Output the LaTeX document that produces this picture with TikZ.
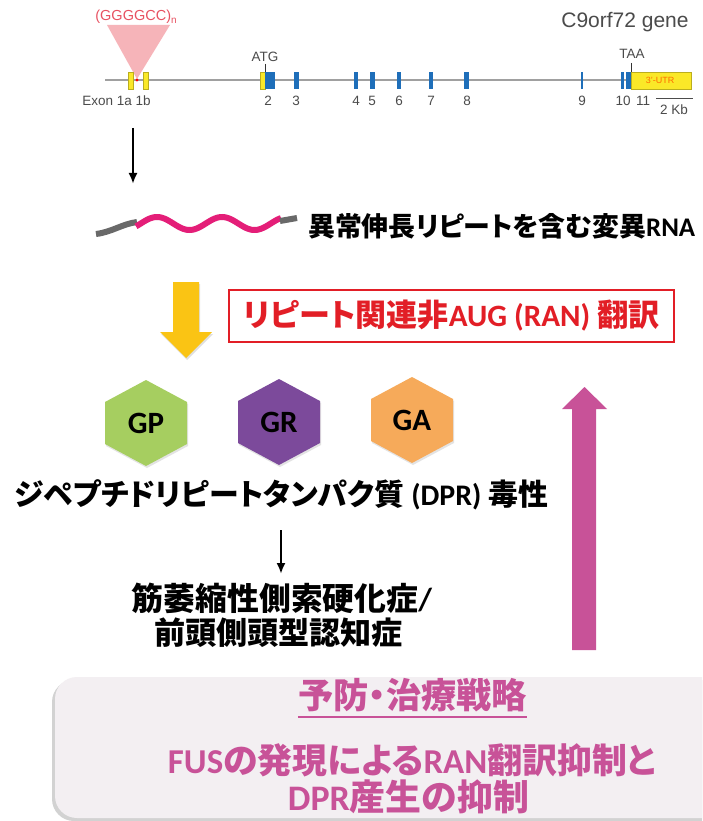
\documentclass[tikz,border=0pt]{standalone}
\usepackage{fontspec}
\usepackage{graphicx}
\setmainfont{Liberation Sans}
\newfontfamily\jp{Noto Sans CJK JP}[RawFeature=+palt]
\newfontfamily\lat{Carlito}
\usetikzlibrary{arrows.meta,shadows}
\definecolor{genegray}{RGB}{160,160,160}
\definecolor{exblue}{RGB}{30,110,185}
\definecolor{exyellow}{RGB}{250,232,40}
\definecolor{tripink}{RGB}{246,172,178}
\definecolor{repred}{RGB}{232,82,98}
\definecolor{labgray}{RGB}{75,75,75}
\definecolor{rnapink}{RGB}{228,30,120}
\definecolor{rnagray}{RGB}{105,105,105}
\definecolor{arrowyellow}{RGB}{250,196,20}
\definecolor{ranred}{RGB}{226,30,38}
\definecolor{gpgreen}{RGB}{166,206,96}
\definecolor{grpurple}{RGB}{124,74,155}
\definecolor{gaorange}{RGB}{246,170,90}
\definecolor{strpink}{RGB}{200,82,152}
\definecolor{boxfill}{RGB}{243,239,242}
\newcommand\fitto[2]{\resizebox{#1pt}{!}{#2}}
\tikzset{
  glabel/.style={font=\fontsize{13.5}{15}\selectfont, text=labgray, inner sep=0pt},
  blackarrow/.style={line width=2.2pt, -{Latex[length=11pt,width=9pt]}},
  jptext/.style={inner sep=0pt},
  hextext/.style={inner sep=0pt, font=\lat\bfseries\fontsize{31}{32}\selectfont},
  exonb/.style={fill=exblue},
  exony/.style={fill=exyellow, draw=exyellow!75!black, line width=0.3pt}
}
\begin{document}
\begin{tikzpicture}[x=1pt,y=-1pt]
\useasboundingbox (0,0) rectangle (702,821);
\fill[white] (0,0) rectangle (702,821);
% ---------- gene ----------
\node[font=\fontsize{21}{23}\selectfont, text=labgray, inner sep=0pt] (title) at (625,22) {C9orf72 gene};
\fill[tripink, opacity=0.9] (107,25) -- (170,25) -- (137,79) -- cycle;
\node[font=\fontsize{14.5}{16}\selectfont, text=repred, inner sep=0pt] (rep) at (136,17) {(GGGGCC)\raisebox{-0.45ex}{\fontsize{10}{11}\selectfont n}};
\draw[genegray, line width=2.5pt] (105,80) -- (632,80);
\fill[red] (137,80) circle (1.6);
\draw[exony] (128,72) rectangle (133,89);
\draw[exony] (143,72) rectangle (148,89);
\draw[exony] (260,72) rectangle (265,89);
\fill[exonb] (265,72) rectangle (275,89);
\fill[exonb] (294,72) rectangle (299,89);
\fill[exonb] (354,72) rectangle (358,89);
\fill[exonb] (370,72) rectangle (375,89);
\fill[exonb] (397,72) rectangle (401,89);
\fill[exonb] (429,72) rectangle (433,89);
\fill[exonb] (464,72) rectangle (469,89);
\fill[exonb] (581,72) rectangle (583,89);
\fill[exonb] (621,72) rectangle (624,89);
\fill[exonb] (626,72) rectangle (631,89);
\draw[exony] (631,72) rectangle (691,89);
\node[font=\fontsize{9}{10}\selectfont, text=orange!85!red, inner sep=0pt] (utr) at (660,80.5) {3'-UTR};
\node[glabel] (atg) at (265,57) {ATG};
\draw[black!80, line width=0.8pt] (265,64) -- (265,72);
\node[glabel] (taa) at (632,54) {TAA};
\draw[black!80, line width=0.8pt] (631,63) -- (631,72);
\node[glabel] (ex1) at (116.5,101) {Exon 1a 1b};
\node[glabel] (l2) at (268,101) {2};
\node[glabel] (l3) at (296,101) {3};
\node[glabel] (l4) at (356,101) {4};
\node[glabel] (l5) at (372,101) {5};
\node[glabel] (l6) at (399,101) {6};
\node[glabel] (l7) at (431,101) {7};
\node[glabel] (l8) at (467,101) {8};
\node[glabel] (l9) at (582,101) {9};
\node[glabel] (l10) at (623,101) {10};
\node[glabel] (l11) at (643,101) {11};
\draw[black!70, line width=1pt] (656,99) -- (693,99);
\node[glabel] (kb) at (674,109.5) {2 Kb};
% ---------- arrow gene -> RNA ----------
\coordinate (g1) at (133,128);
\coordinate (g2) at (133,184);
\draw[blackarrow] (g1) -- (g2);
% ---------- RNA ----------
\draw[rnagray, line width=6pt] (96,234) .. controls (112,232) and (122,224) .. (137,222);
\draw[rnapink, line width=6pt, domain=136:281, samples=80, variable=\t]
  plot ({\t},{223.5-6.5*cos(5.538*(\t-157))});
\draw[rnagray, line width=6pt] (280,221) -- (297,218);
\node[jptext, anchor=west] (rna) at (308,226) {\fitto{387}{\bfseries\jp 異常伸長リピートを含む変異\lat RNA}};
% ---------- yellow arrow ----------
\fill[arrowyellow, drop shadow={opacity=0.25, shadow xshift=1pt, shadow yshift=-2pt}]
  (173,282) -- (199,282) -- (199,332) -- (212,332) -- (186,358) -- (160,332) -- (173,332) -- cycle;
% ---------- RAN box ----------
\node[draw=ranred, line width=2.5pt, minimum width=445pt, minimum height=52pt, inner sep=0pt] (ran) at (451.5,316)
  {\textcolor{ranred}{\fitto{416}{\bfseries\jp リピート関連非\lat AUG (RAN) \jp 翻訳}}};
% ---------- hexagons ----------
\foreach \nm/\cx/\cy/\col in {GP/146/423/gpgreen, GR/279/422/grpurple, GA/412/420/gaorange}{
  \fill[\col, drop shadow={opacity=0.22, shadow xshift=1pt, shadow yshift=-2pt}]
    (\cx,\cy-43) -- (\cx+41,\cy-21) -- (\cx+41,\cy+21) -- (\cx,\cy+43) -- (\cx-41,\cy+21) -- (\cx-41,\cy-21) -- cycle;
  \node[hextext] (\nm) at (\cx,\cy) {\nm};
}
% ---------- DPR ----------
\node[jptext] (dpr) at (281.5,495) {\fitto{533}{\bfseries\jp ジペプチドリピートタンパク質 \lat (DPR) \jp 毒性}};
\coordinate (d1) at (281,530);
\coordinate (d2) at (281,574);
\draw[blackarrow] (d1) -- (d2);
\node[jptext] (als) at (282,598) {\fitto{300}{\bfseries\jp 筋萎縮性側索硬化症\lat /}};
\node[jptext] (ftd) at (278.5,633) {\fitto{249}{\bfseries\jp 前頭側頭型認知症}};
% ---------- pink arrow ----------
\fill[strpink] (572,650) -- (572,409) -- (562,409) -- (584.5,387) -- (607,409) -- (596,409) -- (596,650) -- cycle;
% ---------- bottom box ----------
\begin{scope}
\clip (0,0) rectangle (702,821);
\fill[boxfill, rounded corners=22pt, drop shadow={opacity=0.35, shadow xshift=-3pt, shadow yshift=-3pt}] (55,677) rectangle (740,818);
\end{scope}
\node[jptext, text=strpink] (yobo) at (412.5,695) {\fitto{229}{\bfseries\jp 予防・治療戦略}};
\draw[strpink, line width=1.6pt] (yobo.south west) ++(0,5) coordinate (u1) -- (yobo.south east |- u1);
\node[jptext, text=strpink] (fus) at (412,760) {\fitto{488}{\bfseries\lat FUS\jp の発現による\lat RAN\jp 翻訳抑制と}};
\node[jptext, text=strpink] (dprs) at (408.5,797) {\fitto{241}{\bfseries\lat DPR\jp 産生の抑制}};
\end{tikzpicture}
\end{document}
